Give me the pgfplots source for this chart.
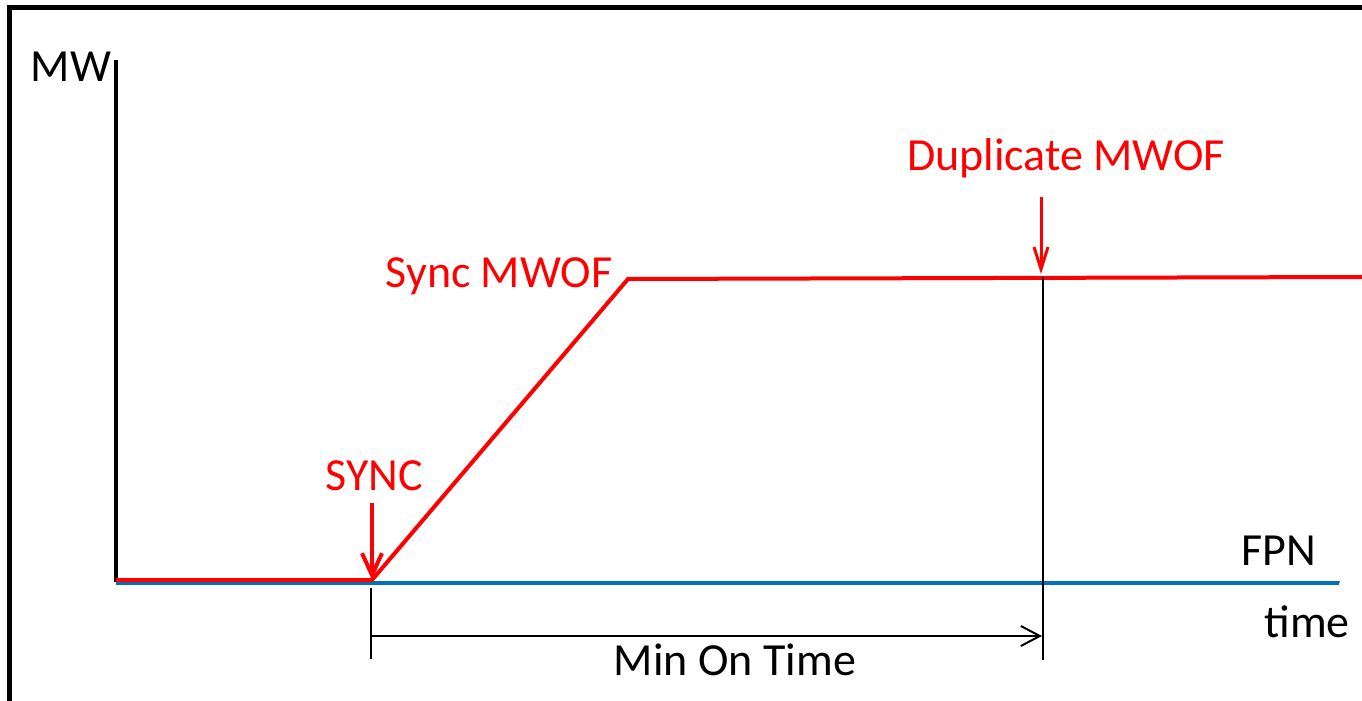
\documentclass[border=0pt]{standalone}
\usepackage{fontspec}
\setmainfont{Carlito}
\usepackage{pgfplots}
\pgfplotsset{compat=1.18}
\usetikzlibrary{arrows.meta}
\definecolor{fpnblue}{RGB}{0,112,192}

\begin{document}
\begin{tikzpicture}[lbl/.style={anchor=base, inner sep=0pt, font=\fontsize{23}{27}\selectfont}]
\begin{axis}[
  scale only axis, width=612pt, height=261pt,
  xmin=0, xmax=1224, ymin=0, ymax=522,
  axis x line=bottom, axis y line=left,
  axis line style={-},
  y axis line style={line width=1.6pt},
  x axis line style={gray, line width=0.6pt},
  xtick=\empty, ytick=\empty,
  clip=false,
]
% FPN and the unit's MW profile
\addplot[fpnblue, line width=2pt] coordinates {(0,-0.5) (1223,-0.5)};
\addplot[red, line width=2pt] coordinates {(0,2) (256,2) (512,303) (1246,305)};

% frame
\draw[line width=2.5pt] (axis cs:-106.5,-125) -- (axis cs:-106.5,574.5) -- (axis cs:1250,574.5);

% min on time markers
\draw[line width=1pt] (axis cs:927,305) -- (axis cs:927,-78);
\draw[line width=1pt] (axis cs:255,-6) -- (axis cs:255,-77);
\draw[line width=1pt, -{Straight Barb[length=9.5pt,width=10pt]}] (axis cs:256,-54) -- (axis cs:926,-54);

% red arrows
\draw[red, line width=2pt, -{Straight Barb[length=11pt,width=10pt]}] (axis cs:256,79) -- (axis cs:256,2);
\draw[red, line width=1.5pt, -{Straight Barb[length=11pt,width=7pt]}] (axis cs:925,385) -- (axis cs:925,308);

% labels
\node[lbl] at (axis cs:-45,500) {MW};
\node[lbl, red] at (axis cs:950,411) {Duplicate MWOF};
\node[lbl, red] at (axis cs:383,294) {Sync MWOF};
\node[lbl, red] at (axis cs:258,92) {SYNC};
\node[lbl] at (axis cs:1163,17) {FPN};
\node[lbl] at (axis cs:1191,-55) {time};
\node[lbl] at (axis cs:619,-93) {Min On Time};

\coordinate (bl) at (axis cs:-116,-118);
\coordinate (tr) at (axis cs:1246,582);
\end{axis}
\pgfresetboundingbox
\path[use as bounding box] (bl) rectangle (tr);
\end{tikzpicture}
\end{document}
